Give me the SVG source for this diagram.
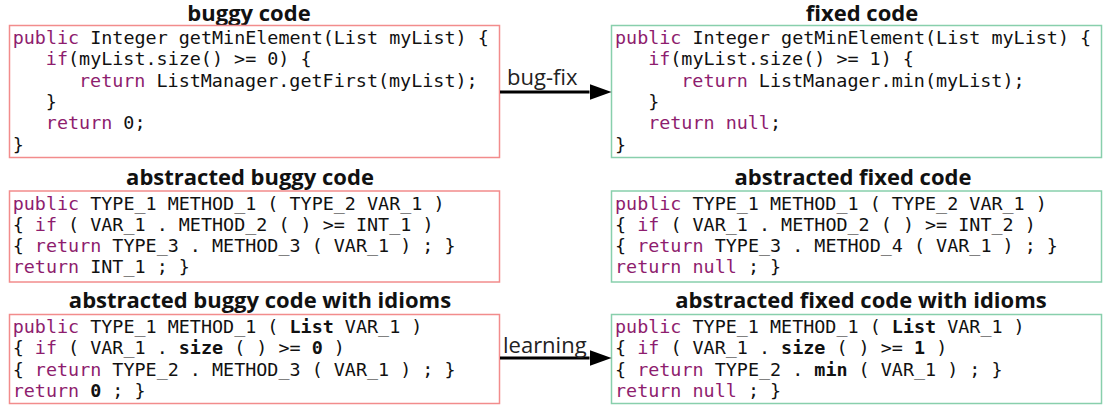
<svg xmlns="http://www.w3.org/2000/svg" width="1110" height="414" viewBox="0 0 1110 414">
<style>
.title{font-family:"Open Sans","Noto Sans",sans-serif;font-weight:700;font-size:22px;fill:#111;text-anchor:middle}
.code{font-family:"DejaVu Sans Mono","Liberation Mono",monospace;font-size:18.4px;fill:#111;white-space:pre}
.k{fill:#8e1d6e}
.b{font-weight:700}
.bug{fill:#fff;stroke:#f28c8c;stroke-width:1.5}
.fix{fill:#fff;stroke:#88cfac;stroke-width:1.5}
.lbl{font-family:"Open Sans","Noto Sans",sans-serif;font-size:22px;fill:#222}
.arr{stroke:#000;stroke-width:3;fill:none}
</style>
<defs>
<marker id="ah" markerUnits="userSpaceOnUse" viewBox="0 0 22 16" markerWidth="22" markerHeight="16" refX="0" refY="8" orient="auto">
<path d="M0,0 L22,8 L0,16 z" fill="#000"/>
</marker>
</defs>

<g id="buggy">
<text class="title" x="249" y="21">buggy code</text>
<rect class="bug" x="9.5" y="25.5" width="490" height="132"/>
<text class="code" x="12.7" y="44"><tspan class="k">public</tspan> Integer getMinElement(List myList) {</text>
<text class="code" x="45.85" y="65.3"><tspan class="k">if</tspan>(myList.size() &gt;= 0) {</text>
<text class="code" x="79" y="86.6"><tspan class="k">return</tspan> ListManager.getFirst(myList);</text>
<text class="code" x="45.85" y="108">}</text>
<text class="code" x="45.85" y="129.3"><tspan class="k">return</tspan> 0;</text>
<text class="code" x="12.7" y="150.6">}</text>
</g>

<g id="fixed">
<text class="title" x="862" y="21">fixed code</text>
<rect class="fix" x="611.5" y="25.5" width="490" height="132"/>
<text class="code" x="615" y="44"><tspan class="k">public</tspan> Integer getMinElement(List myList) {</text>
<text class="code" x="648.15" y="65.3"><tspan class="k">if</tspan>(myList.size() &gt;= 1) {</text>
<text class="code" x="681.3" y="86.6"><tspan class="k">return</tspan> ListManager.min(myList);</text>
<text class="code" x="648.15" y="108">}</text>
<text class="code" x="648.15" y="129.3"><tspan class="k">return</tspan> <tspan class="k">null</tspan>;</text>
<text class="code" x="615" y="150.6">}</text>
</g>

<g id="abs-buggy">
<text class="title" x="250" y="185">abstracted buggy code</text>
<rect class="bug" x="9.5" y="191" width="490" height="91"/>
<text class="code" x="12.7" y="209.5"><tspan class="k">public</tspan> TYPE_1 METHOD_1 ( TYPE_2 VAR_1 )</text>
<text class="code" x="12.7" y="230.8">{ <tspan class="k">if</tspan> ( VAR_1 . METHOD_2 ( ) &gt;= INT_1 )</text>
<text class="code" x="12.7" y="252.1">{ <tspan class="k">return</tspan> TYPE_3 . METHOD_3 ( VAR_1 ) ; }</text>
<text class="code" x="12.7" y="273.4"><tspan class="k">return</tspan> INT_1 ; }</text>
</g>

<g id="abs-fixed">
<text class="title" x="853" y="185">abstracted fixed code</text>
<rect class="fix" x="611.5" y="191" width="490" height="91"/>
<text class="code" x="615" y="209.5"><tspan class="k">public</tspan> TYPE_1 METHOD_1 ( TYPE_2 VAR_1 )</text>
<text class="code" x="615" y="230.8">{ <tspan class="k">if</tspan> ( VAR_1 . METHOD_2 ( ) &gt;= INT_2 )</text>
<text class="code" x="615" y="252.1">{ <tspan class="k">return</tspan> TYPE_3 . METHOD_4 ( VAR_1 ) ; }</text>
<text class="code" x="615" y="273.4"><tspan class="k">return</tspan> <tspan class="k">null</tspan> ; }</text>
</g>

<g id="idiom-buggy">
<text class="title" x="260" y="308">abstracted buggy code with idioms</text>
<rect class="bug" x="9.5" y="314.5" width="490" height="89"/>
<text class="code" x="12.7" y="333"><tspan class="k">public</tspan> TYPE_1 METHOD_1 ( <tspan class="b">List</tspan> VAR_1 )</text>
<text class="code" x="12.7" y="354.3">{ <tspan class="k">if</tspan> ( VAR_1 . <tspan class="b">size</tspan> ( ) &gt;= <tspan class="b">0</tspan> )</text>
<text class="code" x="12.7" y="375.6">{ <tspan class="k">return</tspan> TYPE_2 . METHOD_3 ( VAR_1 ) ; }</text>
<text class="code" x="12.7" y="396.9"><tspan class="k">return</tspan> <tspan class="b">0</tspan> ; }</text>
</g>

<g id="idiom-fixed">
<text class="title" x="861" y="308">abstracted fixed code with idioms</text>
<rect class="fix" x="611.5" y="314.5" width="490" height="89"/>
<text class="code" x="615" y="333"><tspan class="k">public</tspan> TYPE_1 METHOD_1 ( <tspan class="b">List</tspan> VAR_1 )</text>
<text class="code" x="615" y="354.3">{ <tspan class="k">if</tspan> ( VAR_1 . <tspan class="b">size</tspan> ( ) &gt;= <tspan class="b">1</tspan> )</text>
<text class="code" x="615" y="375.6">{ <tspan class="k">return</tspan> TYPE_2 . <tspan class="b">min</tspan> ( VAR_1 ) ; }</text>
<text class="code" x="615" y="396.9"><tspan class="k">return</tspan> <tspan class="k">null</tspan> ; }</text>
</g>

<g id="connectors">
<line class="arr" x1="500" y1="92" x2="589.5" y2="92" marker-end="url(#ah)"/>
<text class="lbl" x="507" y="85">bug-fix</text>
<line class="arr" x1="500" y1="358" x2="589.5" y2="358" marker-end="url(#ah)"/>
<text class="lbl" x="503" y="353">learning</text>
</g>
</svg>
